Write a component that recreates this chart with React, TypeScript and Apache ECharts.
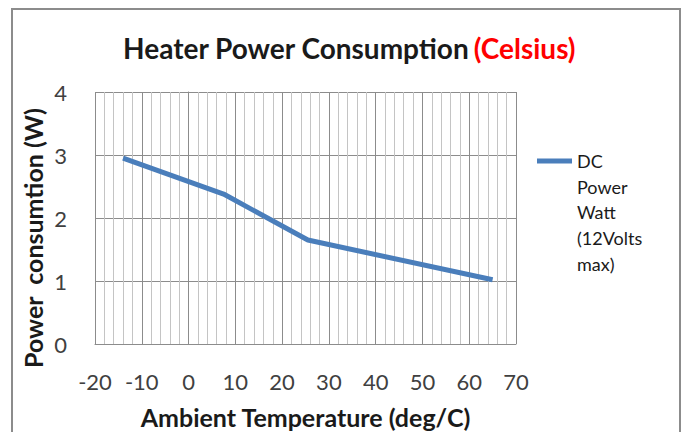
import React, { useEffect, useRef } from "react";
import * as echarts from "echarts";

const temperatures = [-14, 7.5, 25.5, 65];
const powerWatts = [2.95, 2.38, 1.65, 1.02];
const seriesName = "DC\nPower\nWatt\n(12Volts\nmax)";
const titleMain = "Heater Power Consumption";
const titleUnit = "(Celsius)";
const xAxisName = "Ambient Temperature (deg/C)";
const yAxisName = "Power  consumtion (W)";

const FONT = "Lato, 'Open Sans', sans-serif";
const LINE_COLOR = "#4a7ebb";

export default function App() {
  const ref = useRef<HTMLDivElement>(null);
  useEffect(() => {
    if (!ref.current) return;
    const chart = echarts.init(ref.current, undefined, { renderer: "svg" });
    const data = temperatures.map((t, i) => [t, powerWatts[i]]);
    chart.setOption({
      animation: false,
      backgroundColor: "#ffffff",
      textStyle: { fontFamily: FONT },
      title: {
        text: `{a|${titleMain}} {b|${titleUnit}}`,
        left: 344,
        top: 29,
        textAlign: "center",
        textStyle: {
          rich: {
            a: { fontFamily: FONT, fontSize: 28, fontWeight: "bold", color: "#1a1a1a" },
            b: { fontFamily: FONT, fontSize: 28, fontWeight: "bold", color: "#ff0000" },
          },
        },
      },
      graphic: [
        {
          type: "rect",
          shape: { x: 12, y: 9, width: 668, height: 440 },
          style: { fill: "none", stroke: "#8c8c8c", lineWidth: 2 },
          silent: true,
        },
        {
          type: "text",
          x: 33,
          y: 238,
          rotation: Math.PI / 2,
          style: {
            text: yAxisName,
            fontFamily: FONT,
            fontSize: 25,
            fontWeight: "bold",
            fill: "#1a1a1a",
            align: "center",
            verticalAlign: "middle",
          },
          silent: true,
        },
        {
          type: "line",
          shape: { x1: 537, y1: 161, x2: 572, y2: 161 },
          style: { stroke: LINE_COLOR, lineWidth: 5 },
          silent: true,
        },
        {
          type: "text",
          x: 577,
          y: 148,
          style: {
            text: seriesName,
            fontFamily: FONT,
            fontSize: 18,
            fill: "#1a1a1a",
            lineHeight: 25.7,
            align: "left",
            verticalAlign: "top",
          },
          silent: true,
        },
      ],
      grid: {
        left: 95,
        right: 172,
        top: 92,
        bottom: 88,
        containLabel: false,
        outerBoundsMode: "none",
      },
      xAxis: {
        type: "value",
        min: -20,
        max: 70,
        interval: 10,
        name: xAxisName,
        nameLocation: "middle",
        nameGap: 60,
        nameTextStyle: { fontFamily: FONT, fontSize: 25, fontWeight: "bold", color: "#1a1a1a" },
        axisLine: { show: true, lineStyle: { color: "#8c8c8c", width: 1 } },
        axisTick: { show: false },
        axisLabel: { fontFamily: FONT, fontSize: 22, color: "#404040", margin: 26 },
        splitLine: { show: true, lineStyle: { color: "#8c8c8c", width: 1 } },
        minorTick: { show: false, splitNumber: 5 },
        minorSplitLine: { show: true, lineStyle: { color: "#c4c4c4", width: 1 } },
      },
      yAxis: {
        type: "value",
        min: 0,
        max: 4,
        interval: 1,
        axisLine: { show: true, lineStyle: { color: "#8c8c8c", width: 1 } },
        axisTick: { show: false },
        axisLabel: { fontFamily: FONT, fontSize: 22, color: "#404040", margin: 28, verticalAlign: "middle" },
        splitLine: { show: true, lineStyle: { color: "#8c8c8c", width: 1 } },
      },
      series: [
        {
          name: seriesName,
          type: "line",
          data,
          showSymbol: false,
          symbol: "none",
          smooth: false,
          lineStyle: { color: LINE_COLOR, width: 5 },
          itemStyle: { color: LINE_COLOR },
        },
      ],
    });
    return () => chart.dispose();
  }, []);
  return (
    <div
      ref={ref}
      style={{ position: "fixed", left: 0, top: 0, width: 688, height: 432 }}
    />
  );
}
